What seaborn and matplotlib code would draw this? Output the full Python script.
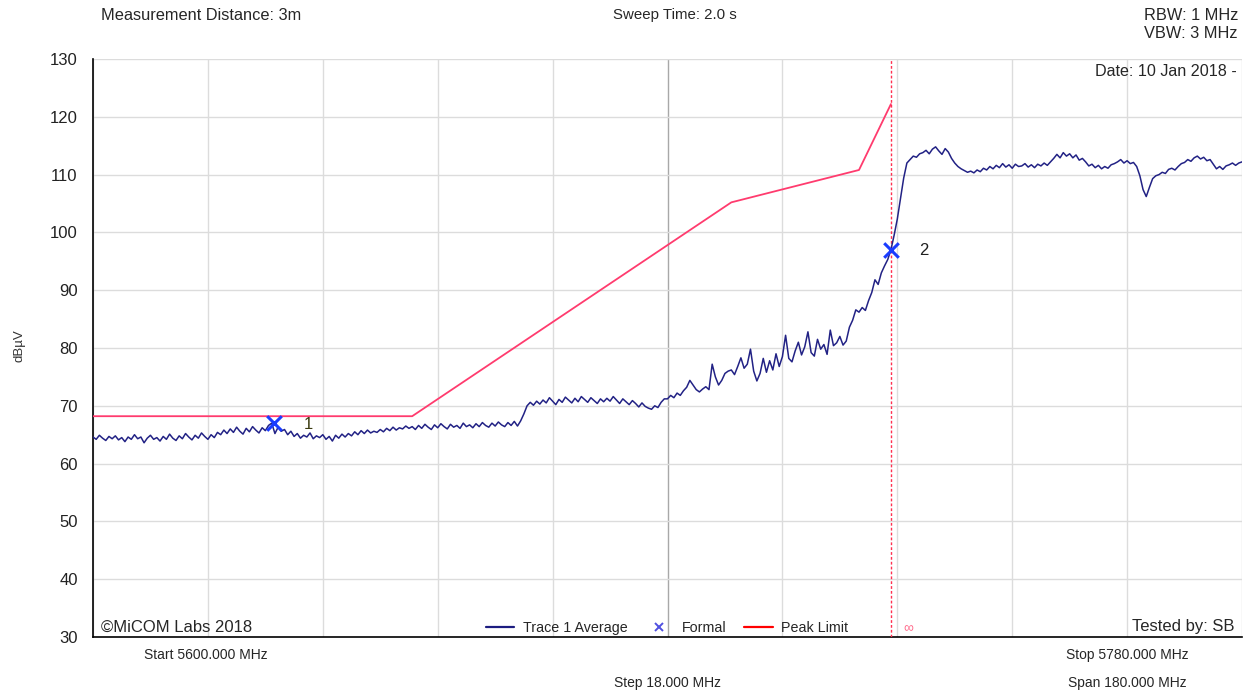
import numpy as np
import pandas as pd
import seaborn as sns
import matplotlib.pyplot as plt
from matplotlib.lines import Line2D

# sweep: 5600 -> 5780 MHz, 0.5 MHz per point
start_mhz = 5600.0
stop_mhz = 5780.0
step_mhz = 0.5

trace_dbuv = [
    64.6, 64.2, 64.9, 64.4, 64.0, 64.7, 64.3, 64.8, 64.1, 64.5, 63.8, 64.6, 64.2, 65.0, 64.3, 64.6, 63.6, 64.4, 64.9, 64.2,
    64.5, 63.9, 64.7, 64.2, 65.1, 64.4, 64.0, 64.8, 64.3, 65.2, 64.6, 64.1, 64.9, 64.4, 65.3, 64.7, 64.2, 65.0, 64.5, 65.4,
    65.0, 65.8, 65.2, 66.0, 65.4, 66.3, 65.6, 65.1, 66.1, 65.5, 66.4, 65.8, 65.3, 66.2, 65.7, 66.6, 67.0, 65.2, 66.3, 65.6,
    65.9, 65.0, 65.6, 64.7, 65.2, 64.4, 64.9, 64.6, 65.3, 64.3, 64.8, 64.5, 65.0, 64.2, 64.7, 63.9, 64.9, 64.4, 65.1, 64.6,
    65.2, 64.8, 65.5, 65.0, 65.7, 65.2, 65.8, 65.3, 65.6, 65.4, 65.9, 65.5, 66.1, 65.7, 66.3, 65.8, 66.2, 66.0, 66.5, 66.1,
    66.4, 65.9, 66.6, 66.1, 66.8, 66.3, 65.9, 66.7, 66.2, 66.9, 66.4, 66.0, 66.8, 66.3, 66.6, 66.1, 67.0, 66.4, 66.7, 66.2,
    66.9, 66.4, 67.1, 66.6, 66.3, 67.0, 66.5, 67.2, 66.7, 66.4, 67.1, 66.6, 67.3, 66.5, 67.4, 68.6, 70.0, 70.6, 70.1, 70.8,
    70.3, 71.0, 70.5, 71.4, 70.8, 70.2, 71.1, 70.6, 71.5, 71.0, 70.5, 71.3, 70.7, 71.6, 71.1, 70.6, 71.4, 70.9, 70.4, 71.2,
    70.7, 71.3, 70.8, 71.6, 71.0, 70.4, 71.2, 70.7, 70.2, 70.9, 70.4, 69.8, 70.5, 69.9, 69.6, 69.4, 70.0, 69.7, 70.6, 71.2,
    71.2, 71.8, 71.4, 72.2, 71.8, 72.6, 73.2, 74.4, 73.6, 72.8, 72.4, 72.9, 73.3, 72.8, 77.2, 75.0, 73.6, 74.4, 75.6, 76.0,
    76.2, 75.4, 76.8, 78.3, 76.5, 77.2, 79.8, 76.0, 74.3, 75.6, 78.2, 75.8, 77.8, 76.2, 79.0, 76.8, 78.5, 82.2, 78.2, 77.6,
    79.5, 81.0, 78.8, 80.2, 82.8, 79.2, 78.6, 81.5, 79.8, 80.6, 78.9, 83.1, 80.4, 80.9, 82.0, 80.5, 81.2, 83.6, 84.8, 86.6,
    86.2, 87.0, 86.5, 88.2, 89.6, 91.8, 91.0, 93.0, 94.2, 95.3, 97.0, 99.5, 102.3, 105.8, 109.4, 112.0, 112.6, 113.2, 113.0, 113.6,
    113.8, 114.2, 113.6, 114.4, 114.8, 114.1, 113.5, 114.5, 113.9, 112.8, 112.0, 111.4, 111.0, 110.7, 110.4, 110.6, 110.3, 110.8, 110.5, 111.1,
    110.8, 111.4, 111.0, 111.6, 111.2, 111.9, 111.3, 111.7, 111.1, 111.8, 111.4, 111.5, 111.9, 111.3, 111.7, 111.2, 111.8, 111.5, 112.0, 111.6,
    112.2, 112.8, 113.5, 112.9, 113.8, 113.2, 113.6, 112.9, 113.4, 112.5, 112.8, 112.2, 111.5, 111.8, 111.2, 111.6, 111.0, 111.4, 111.1, 111.7,
    111.9, 112.2, 112.6, 112.0, 112.4, 111.9, 112.1, 111.4, 109.8, 107.4, 106.2, 107.8, 109.3, 109.8, 110.0, 110.4, 110.2, 110.9, 111.1, 110.8,
    111.4, 111.9, 112.1, 112.6, 112.3, 112.9, 113.2, 112.7, 113.0, 112.4, 112.6, 111.8, 111.0, 111.4, 110.9, 111.5, 111.7, 112.0, 111.6, 112.0,
    112.2,
]

# peak limit mask
limit_mhz = [5600, 5650, 5700, 5720, 5725]
limit_dbuv = [68.2, 68.2, 105.2, 110.8, 122.2]

# markers
marker_mhz = [5628.4, 5725.0]
marker_dbuv = [67.0, 97.0]
marker_names = ["1", "2"]

band_edge_mhz = 5725.0

W, H = 1244, 696


def fx(px):
    return px / W


def fy(py):
    return 1 - py / H


freq = np.arange(len(trace_dbuv)) * step_mhz + start_mhz
trace_df = pd.DataFrame({"freq": freq, "level": trace_dbuv})
limit_df = pd.DataFrame({"freq": limit_mhz, "level": limit_dbuv})

sns.set_style("white")
plt.rcParams["font.family"] = ["Liberation Sans", "DejaVu Sans"]

fig = plt.figure(figsize=(W / 100, H / 100), dpi=100)
ax = fig.add_axes([fx(93), fy(637), fx(1242) - fx(93), fy(59) - fy(637)])

# grid
for f in np.arange(start_mhz, stop_mhz + 1, 18):
    col = "#a8a8a8" if f == 5690 else "#dcdcdc"
    ax.axvline(f, color=col, lw=1.0, zorder=0)
for v in range(40, 131, 10):
    ax.axhline(v, color="#dcdcdc", lw=1.0, zorder=0)

sns.lineplot(data=limit_df, x="freq", y="level", ax=ax, color="#ff3b6e", lw=1.3, zorder=3)
sns.lineplot(data=trace_df, x="freq", y="level", ax=ax, color="#222285", lw=1.1, zorder=4)
ax.axvline(band_edge_mhz, color="#ff3050", lw=1.0, ls=(0, (2, 1.5)), zorder=3)

ax.scatter(marker_mhz, marker_dbuv, marker="x", s=110, color="#1a3cff", linewidths=2.2, zorder=6)
ax.text(marker_mhz[0] + 4.6, marker_dbuv[0] - 0.2, marker_names[0], fontsize=12, color="#3a3a10",
        va="center", ha="left")
ax.text(marker_mhz[1] + 4.4, marker_dbuv[1] - 0.2, marker_names[1], fontsize=12, color="#202020",
        va="center", ha="left")

ax.set_xlim(start_mhz, stop_mhz)
ax.set_ylim(30, 130)
ax.set_xticks(np.arange(start_mhz, stop_mhz + 1, 36))
ax.set_xticklabels([])
ax.set_yticks(range(30, 131, 10))
ax.tick_params(axis="y", direction="out", length=9, width=1, labelsize=12, colors="#222222", pad=2)
ax.tick_params(axis="x", direction="out", length=6, width=1)
ax.set_xlabel("")
ax.set_ylabel("")
for s in ["top", "right"]:
    ax.spines[s].set_visible(False)
for s in ["left", "bottom"]:
    ax.spines[s].set_color("black")
    ax.spines[s].set_linewidth(1.2)

fig.text(fx(19), fy(346), "dBµV", fontsize=9.5, color="#333333", rotation=90, ha="center", va="center")

# legend
handles = [
    Line2D([], [], color="#1c1c80", lw=1.6),
    Line2D([], [], color="#5050e0", lw=0, marker="x", markersize=6, markeredgewidth=1.4),
    Line2D([], [], color="#ff0000", lw=1.6),
]
fig.legend(handles, ["Trace 1 Average", "Formal", "Peak Limit"], loc="center",
           bbox_to_anchor=(fx(667), fy(628)), ncol=3, frameon=False, fontsize=10.3,
           handlelength=2.0, columnspacing=1.2, handletextpad=0.6)

fig.text(fx(908), fy(628), "\u221e", fontsize=10, color="#ff6a8a", ha="center", va="center")

# header / footer annotations
fig.text(fx(101), fy(15), "Measurement Distance: 3m", fontsize=11.8, ha="left", va="center")
fig.text(fx(675), fy(15), "Sweep Time: 2.0 s", fontsize=10.8, ha="center", va="center")
fig.text(fx(1238), fy(15), "RBW: 1 MHz", fontsize=11.8, ha="right", va="center")
fig.text(fx(1238), fy(34), "VBW: 3 MHz", fontsize=11.8, ha="right", va="center")
fig.text(fx(1237), fy(71), "Date: 10 Jan 2018 -", fontsize=11.6, ha="right", va="center")
fig.text(fx(101), fy(627), "\u00a9MiCOM Labs 2018", fontsize=12, ha="left", va="center")
fig.text(fx(1234), fy(627), "Tested by: SB", fontsize=12, ha="right", va="center")
fig.text(fx(206), fy(655), "Start 5600.000 MHz", fontsize=10, ha="center", va="center")
fig.text(fx(667), fy(683), "Step 18.000 MHz", fontsize=10, ha="center", va="center")
fig.text(fx(1127), fy(655), "Stop 5780.000 MHz", fontsize=10, ha="center", va="center")
fig.text(fx(1127), fy(683), "Span 180.000 MHz", fontsize=10, ha="center", va="center")

fig.savefig("out.png", dpi=100)
